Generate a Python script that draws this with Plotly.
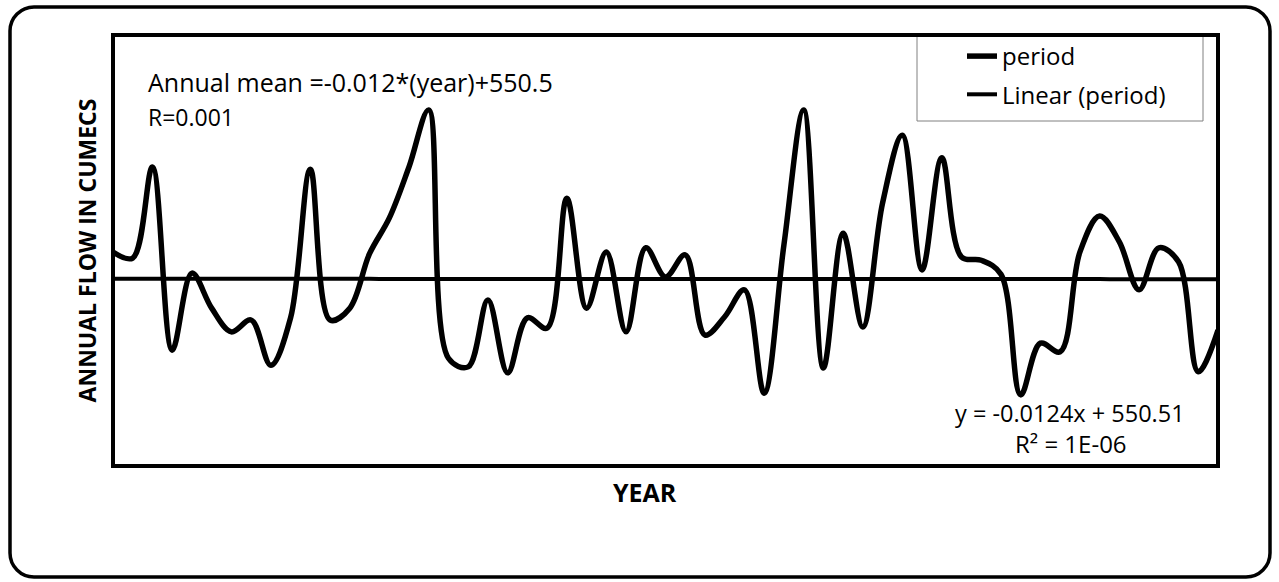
import numpy as np
import plotly.graph_objects as go

# Annual flow series (cumecs), one value per year of record
years = list(range(1, 58))
flow = [600, 589, 758, 418, 561, 496, 452, 474, 390, 478,
        754, 474, 496, 597, 663, 758, 864, 403, 387, 511,
        376, 478, 459, 700, 496, 600, 452, 608, 554, 595,
        446, 480, 530, 338, 613, 864, 385, 635, 461, 691,
        817, 567, 775, 591, 585, 559, 335, 431, 415, 600,
        667, 619, 530, 608, 582, 378, 455]

# Linear trend as reported on the chart
slope = -0.0124
intercept = 550.51
trend_y = [slope * x + intercept for x in years]

W, H = 1279, 582
L, R, T, B = 113, 61, 35, 116
PW, PH = W - L - R, H - T - B
FONT = "Open Sans"


def px(x):
    return (x - L) / PW


def py(y):
    return 1 - (y - T) / PH


def rounded_rect(x0, y0, x1, y1, r):
    k = 0.5523 * r
    pts = [
        f"M {px(x0 + r)},{py(y0)}",
        f"L {px(x1 - r)},{py(y0)}",
        f"C {px(x1 - r + k)},{py(y0)} {px(x1)},{py(y0 + r - k)} {px(x1)},{py(y0 + r)}",
        f"L {px(x1)},{py(y1 - r)}",
        f"C {px(x1)},{py(y1 - r + k)} {px(x1 - r + k)},{py(y1)} {px(x1 - r)},{py(y1)}",
        f"L {px(x0 + r)},{py(y1)}",
        f"C {px(x0 + r - k)},{py(y1)} {px(x0)},{py(y1 - r + k)} {px(x0)},{py(y1 - r)}",
        f"L {px(x0)},{py(y0 + r)}",
        f"C {px(x0)},{py(y0 + r - k)} {px(x0 + r - k)},{py(y0)} {px(x0 + r)},{py(y0)}",
        "Z",
    ]
    return " ".join(pts)


fig = go.Figure()
fig.add_trace(go.Scatter(
    x=years, y=flow, mode="lines", name="period", legendgroup="a",
    line=dict(color="black", width=5.5, shape="spline", smoothing=1.0),
))
fig.add_trace(go.Scatter(
    x=years, y=trend_y, mode="lines", name="Linear (period)", legendgroup="b",
    line=dict(color="black", width=4, shape="spline", smoothing=0.01),
))

shapes = [
    # outer chart frame
    dict(type="path", xref="paper", yref="paper",
         path=rounded_rect(10, 7, 1270, 577, 24),
         line=dict(color="black", width=3.5), layer="below"),
    # plot area frame
    dict(type="rect", xref="paper", yref="paper", x0=0, x1=1, y0=0, y1=1,
         line=dict(color="black", width=4), layer="above"),
    # legend box
    dict(type="rect", xref="paper", yref="paper",
         x0=px(917), x1=px(1203), y0=py(121), y1=py(36),
         line=dict(color="#808080", width=1), fillcolor="white", layer="below"),
]

annotations = [
    dict(text="Annual mean =-0.012*(year)+550.5", xref="paper", yref="paper",
         x=px(146), y=py(82), xanchor="left", yanchor="middle", showarrow=False,
         font=dict(family=FONT, size=25, color="black")),
    dict(text="R=0.001", xref="paper", yref="paper",
         x=px(146), y=py(117), xanchor="left", yanchor="middle", showarrow=False,
         font=dict(family=FONT, size=23, color="black")),
    dict(text="y = -0.0124x + 550.51", xref="paper", yref="paper",
         x=px(1070), y=py(413), xanchor="center", yanchor="middle", showarrow=False,
         font=dict(family=FONT, size=23.5, color="black")),
    dict(text="R² = 1E-06", xref="paper", yref="paper",
         x=px(1071), y=py(443), xanchor="center", yanchor="middle", showarrow=False,
         font=dict(family=FONT, size=24, color="black")),
    dict(text="<b>YEAR</b>", xref="paper", yref="paper",
         x=px(645), y=py(492), xanchor="center", yanchor="middle", showarrow=False,
         font=dict(family=FONT, size=25, color="black")),
]

fig.update_layout(
    width=W, height=H,
    margin=dict(l=L, r=R, t=T, b=B),
    paper_bgcolor="white", plot_bgcolor="white",
    font=dict(family=FONT, color="black"),
    shapes=shapes, annotations=annotations,
    showlegend=True,
    legend=dict(x=px(962), y=py(34), xanchor="left", yanchor="top",
                bgcolor="rgba(0,0,0,0)", borderwidth=0,
                font=dict(family=FONT, size=24, color="black"),
                tracegroupgap=4),
    xaxis=dict(range=[1, 57], showgrid=False, zeroline=False, showticklabels=False,
               ticks="", showline=False),
    yaxis=dict(range=[203, 1003], showgrid=False, zeroline=False, showticklabels=False,
               ticks="", showline=False,
               title=dict(text="<b>ANNUAL FLOW IN CUMECS</b>", standoff=8,
                          font=dict(family=FONT, size=23, color="black"))),
)

fig.write_html("out.html")
